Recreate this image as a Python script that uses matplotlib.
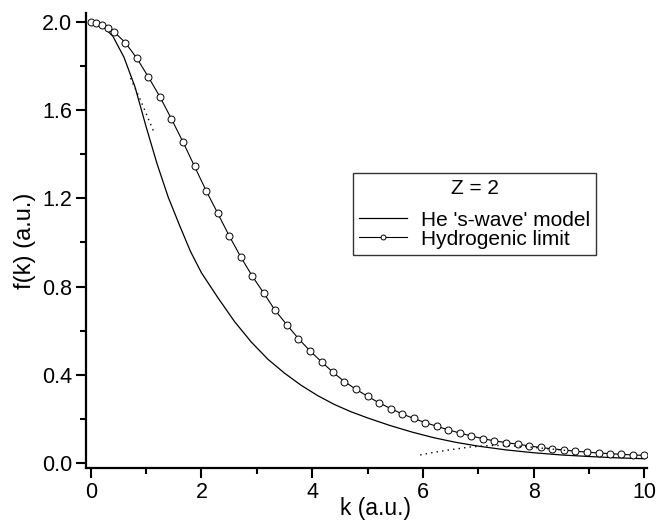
import matplotlib
matplotlib.use("Agg")
import matplotlib.pyplot as plt

plt.rcParams['font.family'] = ['Liberation Sans', 'DejaVu Sans']

# Hydrogenic limit (circles)
k_hyd = [0.0, 0.104, 0.208, 0.3125, 0.417, 0.625, 0.833, 1.042, 1.25, 1.458,
         1.667, 1.875, 2.083, 2.29, 2.5, 2.71, 2.92, 3.125, 3.33, 3.54,
         3.75, 3.96, 4.17, 4.375, 4.58, 4.79, 5.0, 5.21, 5.42, 5.625,
         5.83, 6.04, 6.25, 6.46, 6.67, 6.875, 7.08, 7.29, 7.5, 7.71,
         7.92, 8.125, 8.33, 8.54, 8.75, 8.96, 9.17, 9.375, 9.58, 9.79, 10.0]
f_hyd = [2.000, 1.994, 1.986, 1.974, 1.956, 1.906, 1.835, 1.750, 1.660, 1.560,
         1.455, 1.345, 1.235, 1.134, 1.030, 0.934, 0.846, 0.770, 0.692, 0.627,
         0.564, 0.508, 0.458, 0.411, 0.369, 0.334, 0.302, 0.272, 0.246, 0.222,
         0.202, 0.183, 0.166, 0.150, 0.135, 0.122, 0.110, 0.100, 0.092, 0.085,
         0.077, 0.070, 0.064, 0.059, 0.053, 0.049, 0.045, 0.042, 0.039, 0.036, 0.034]

# He 's-wave' model (solid)
k_he = [0.0, 0.2, 0.4, 0.6, 0.8, 1.0, 1.2, 1.4, 1.6, 1.8, 2.0, 2.3, 2.6, 2.9,
        3.2, 3.5, 3.8, 4.1, 4.4, 4.7, 5.0, 5.4, 5.8, 6.2, 6.6, 7.0, 7.5, 8.0,
        8.5, 9.0, 9.5, 10.0]
f_he = [2.000, 1.985, 1.935, 1.840, 1.705, 1.525, 1.355, 1.205, 1.080, 0.960,
        0.862, 0.748, 0.640, 0.548, 0.470, 0.407, 0.352, 0.305, 0.265, 0.232,
        0.204, 0.170, 0.140, 0.114, 0.093, 0.076, 0.059, 0.046, 0.036, 0.029,
        0.023, 0.019]

# small-k expansion (dotted)
k_small = [0.72, 0.80, 0.90, 1.00, 1.10, 1.15]
f_small = [1.745, 1.700, 1.645, 1.585, 1.525, 1.495]

# large-k expansion (dotted)
k_large = [5.95, 6.2, 6.5, 6.85, 7.2, 7.5, 7.8, 8.1, 8.4, 8.6]
f_large = [0.036, 0.048, 0.060, 0.072, 0.079, 0.079, 0.075, 0.068, 0.061, 0.056]

fig = plt.figure(figsize=(6.57, 5.23), dpi=100)
ax = fig.add_axes([0.1309, 0.1052, 0.8534, 0.8698])

ax.plot(k_he, f_he, color='black', lw=0.9, label="He 's-wave' model")
ax.plot(k_hyd, f_hyd, color='black', lw=0.8, marker='o', markersize=5,
        markerfacecolor='white', markeredgecolor='black', markeredgewidth=0.7,
        label='Hydrogenic limit')
ax.plot(k_small, f_small, color='black', lw=1.0, linestyle=(0, (1, 3)))
ax.plot(k_large, f_large, color='black', lw=1.0, linestyle=(0, (1, 3)))

ax.set_xlim(-0.085, 10.04)
ax.set_ylim(-0.023, 2.04)
ax.set_xticks([0, 2, 4, 6, 8, 10])
ax.set_xticks([1, 3, 5, 7, 9], minor=True)
ax.set_yticks([0.0, 0.4, 0.8, 1.2, 1.6, 2.0])
ax.set_yticks([0.2, 0.6, 1.0, 1.4, 1.8], minor=True)
ax.set_yticklabels(['0.0', '0.4', '0.8', '1.2', '1.6', '2.0'])
ax.tick_params(which='major', direction='out', length=7, width=1.5, labelsize=15.5, pad=3)
ax.tick_params(which='minor', direction='out', length=4, width=1.5)
for s in ['top', 'right']:
    ax.spines[s].set_visible(False)
for s in ['left', 'bottom']:
    ax.spines[s].set_linewidth(1.6)

ax.set_xlabel('k (a.u.)', fontsize=16.5, labelpad=0)
ax.xaxis.set_label_coords(0.50 + 9 / 561, -0.064)
ax.set_ylabel('f(k) (a.u.)', fontsize=17, labelpad=4)

leg = ax.legend(title='Z = 2', loc='upper left',
                bbox_to_anchor=(353 / 657, 1 - 173 / 523), bbox_transform=fig.transFigure,
                fontsize=15, title_fontsize=15, frameon=True, fancybox=False,
                edgecolor='black', labelspacing=0.0, borderpad=0.3,
                handlelength=2.3, handletextpad=0.65, borderaxespad=0, markerscale=0.7)
leg.get_frame().set_linewidth(1.0)
leg._legend_box.sep = 9

fig.savefig('out.png', dpi=100)
